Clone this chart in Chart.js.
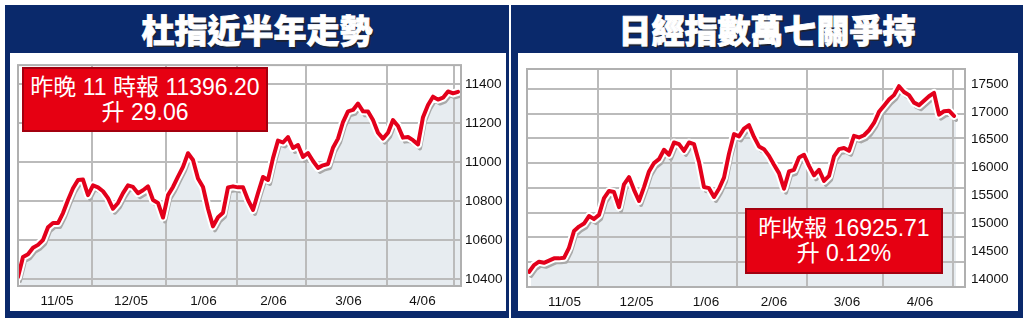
<!DOCTYPE html>
<html>
<head>
<meta charset="utf-8">
<script src="https://cdn.jsdelivr.net/npm/chart.js@4.4.1/dist/chart.umd.min.js"></script>
<style>
  html, body { margin: 0; padding: 0; background: #fff; }
  body { width: 1029px; height: 321px; position: relative; overflow: hidden;
         font-family: "Liberation Sans", Arial, "Noto Sans CJK TC", sans-serif; }
  .panel { position: absolute; top: 5px; height: 313px; background: #0a296b; }
  .title { position: absolute; left: 0; right: 0; top: 0; height: 48px; line-height: 48px;
           text-align: center; color: #fff; font-family: "Noto Sans CJK TC", sans-serif;
           font-weight: 900; font-size: 33px; -webkit-text-stroke: 0.8px #fff;
           text-shadow: 2px 2px 0 #1c2233; }
  .inner { position: absolute; top: 48px; height: 258px; background: #fff; }
  canvas { position: absolute; left: 0; top: 0; }
  .tag { position: absolute; box-sizing: border-box; background: #e60012; border: 2px solid #a3000f;
         color: #fff; font-size: 23px; line-height: 25px; text-align: center;
         font-family: "Liberation Sans", Arial, "Noto Sans CJK TC", sans-serif;
         display: flex; flex-direction: column; justify-content: center; }
</style>
</head>
<body>
<div class="panel" style="left:5px;width:504px;">
  <div class="title">杜指近半年走勢</div>
  <div class="inner" style="left:5px;width:496px;"><canvas id="dji" width="496" height="258"></canvas></div>
</div>
<div class="panel" style="left:511px;width:512px;">
  <div class="title">日經指數萬七關爭持</div>
  <div class="inner" style="left:7px;width:500px;"><canvas id="nikkei" width="500" height="258"></canvas></div>
</div>
<div class="tag" style="left:22px;top:67px;width:246px;height:65px;">
  <div>昨晚 11 時報 11396.20</div><div>升 29.06</div>
</div>
<div class="tag" style="left:745px;top:208px;width:198px;height:66px;">
  <div>昨收報 16925.71</div><div>升 0.12%</div>
</div>

<script>
// Dow Jones, roughly every trading day and a half, Oct 05 - Apr 06
var djiValues = [
  10410, 10513, 10527, 10560, 10575, 10600, 10665, 10687, 10687, 10738,
  10805, 10865, 10908, 10910, 10830, 10880, 10870, 10850, 10815, 10760,
  10790, 10840, 10880, 10872, 10840, 10855, 10875, 10805, 10790, 10715,
  10830, 10872, 10925, 10975, 11045, 11010, 10915, 10872, 10760, 10670,
  10717, 10740, 10870, 10875, 10870, 10870, 10805, 10754, 10840, 10923,
  10908, 11020, 11110, 11100, 11128, 11072, 11087, 11026, 11046, 11005,
  10970, 10983, 10990, 11073, 11120, 11205, 11260, 11267, 11300, 11260,
  11259, 11215, 11150, 11120, 11150, 11215, 11185, 11125, 11128, 11112,
  11090, 11230, 11292, 11335, 11320, 11330, 11362, 11352, 11360
];
var djiMonths = ["11/05", "12/05", "1/06", "2/06", "3/06", "4/06"];
var djiMonthEnds = [14.8, 29.6, 43.8, 57.6, 73.8, 87.2];
var djiTicks = [10400, 10600, 10800, 11000, 11200, 11400];

// Nikkei 225
var nkValues = [
  14126, 14250, 14310, 14290, 14330, 14370, 14370, 14380, 14560, 14860,
  14940, 14995, 15130, 15075, 15150, 15450, 15580, 15560, 15290, 15700,
  15830, 15600, 15400, 15650, 15930, 16080, 16150, 16320, 16230, 16450,
  16420, 16300, 16450, 16420, 16100, 15650, 15630, 15472, 15620, 15820,
  16250, 16600, 16560, 16700, 16760, 16550, 16380, 16330, 16210, 16050,
  15900, 15620, 15930, 15960, 16180, 16230, 16030, 15860, 15960, 15760,
  15850, 16200, 16330, 16350, 16300, 16570, 16540, 16580, 16670, 16800,
  17000, 17110, 17220, 17300, 17460, 17357, 17300, 17165, 17120, 17200,
  17280, 17340, 16950, 17010, 17020, 16926
];
var nkMonths = ["11/05", "12/05", "1/06", "2/06", "3/06", "4/06"];
var nkMonthEnds = [13.8, 28.4, 41.6, 55.6, 70.8, 84.8];
var nkTicks = [14000, 14500, 15000, 15500, 16000, 16500, 17000, 17500];

var gridColor = "#bbbbbb";
var tickFont = { family: "Liberation Sans", size: 13.5 };

// shadow line + area fill are drawn shifted down-right, grid goes back on top of the fill
var shadowPlugin = {
  id: "shadowShift",
  beforeDatasetDraw: function (chart, args) {
    var ds = chart.data.datasets[args.index];
    if (!ds.shift) return;
    var a = chart.chartArea, ctx = chart.ctx, pts = args.meta.data;
    ctx.save();
    ctx.beginPath();
    ctx.rect(a.left, a.top, a.right - a.left, a.bottom - a.top);
    ctx.clip();
    ctx.translate(ds.shift[0], ds.shift[1]);
    ctx.beginPath();
    ctx.moveTo(pts[0].x, a.bottom);
    pts.forEach(function (p) { ctx.lineTo(p.x, p.y); });
    ctx.lineTo(pts[pts.length - 1].x, a.bottom);
    ctx.closePath();
    ctx.fillStyle = "#e7ecf0";
    ctx.fill();
    ctx.restore();
    Object.values(chart.scales).forEach(function (s) {
      if (s.options.grid.display) s.drawGrid(a);
    });
    ctx.save();
    ctx.beginPath();
    ctx.rect(a.left, a.top, a.right - a.left, a.bottom - a.top);
    ctx.clip();
    ctx.translate(ds.shift[0], ds.shift[1]);
  },
  afterDatasetDraw: function (chart, args) {
    var ds = chart.data.datasets[args.index];
    if (ds.shift) chart.ctx.restore();
  },
  afterDraw: function (chart) {
    var a = chart.chartArea, ctx = chart.ctx;
    ctx.save();
    ctx.strokeStyle = "#b0b0b0";
    ctx.lineWidth = 2;
    ctx.strokeRect(a.left, a.top, a.right - a.left, a.bottom - a.top);
    ctx.restore();
  }
};

function makeChart(id, values, months, monthEnds, yTicks, o) {
  var pts = values.map(function (v, i) { return { x: i, y: v }; });
  var mids = monthEnds.map(function (e, k) {
    return ((k === 0 ? o.xMin : monthEnds[k - 1]) + e) / 2 + 0.4;
  });
  var scales = {
    x: {
      type: "linear", min: o.xMin, max: o.xMax,
      grid: { display: false, drawTicks: false }, border: { display: false },
      afterBuildTicks: function (s) { s.ticks = mids.map(function (v) { return { value: v }; }); },
      afterFit: function (s) { s.height = o.axisH; },
      ticks: { autoSkip: false, maxRotation: 0, padding: 7, color: "#111", font: tickFont,
               callback: function (v, i) { return months[i]; } }
    },
    xg: {
      type: "linear", position: "bottom", min: o.xMin, max: o.xMax,
      grid: { color: gridColor, lineWidth: 2, drawTicks: false }, border: { display: false },
      ticks: { display: false },
      afterBuildTicks: function (s) { s.ticks = monthEnds.map(function (v) { return { value: v }; }); },
      afterFit: function (s) { s.height = 0; }
    },
    y: {
      position: "right", min: o.yMin, max: o.yMax,
      grid: { display: !o.gridRows, color: gridColor, lineWidth: 2, drawTicks: false },
      border: { display: false },
      afterBuildTicks: function (s) { s.ticks = yTicks.map(function (v) { return { value: v }; }); },
      afterFit: function (s) { s.width = o.axisW; },
      ticks: { padding: o.yPad, color: "#111", font: tickFont,
               callback: function (v) { return String(v); } }
    }
  };
  if (o.gridRows) {
    scales.yg = {
      position: "left", min: 0, max: o.gridRows,
      grid: { color: gridColor, lineWidth: 2, drawTicks: false }, border: { display: false },
      ticks: { display: false },
      afterBuildTicks: function (s) {
        var t = [];
        for (var k = 1; k < o.gridRows; k++) t.push({ value: k });
        s.ticks = t;
      },
      afterFit: function (s) { s.width = 0; }
    };
  }
  return new Chart(document.getElementById(id), {
    type: "line",
    data: {
      datasets: [
        { data: pts, borderColor: "#e3001b", borderWidth: 4, pointRadius: 0, tension: 0,
          borderJoinStyle: "round", borderCapStyle: "round", xAxisID: "x", yAxisID: "y" },
        { data: pts, borderColor: "#ffffff", borderWidth: 8, pointRadius: 0, tension: 0,
          borderJoinStyle: "round", borderCapStyle: "round", xAxisID: "x", yAxisID: "y" },
        { data: pts, borderColor: "#a9a9a9", borderWidth: 4, pointRadius: 0, tension: 0,
          borderJoinStyle: "round", borderCapStyle: "round", shift: [2, 4], xAxisID: "x", yAxisID: "y" }
      ]
    },
    options: {
      responsive: false,
      animation: false,
      layout: { padding: o.padding },
      plugins: { legend: { display: false }, tooltip: { enabled: false } },
      scales: scales
    },
    plugins: [shadowPlugin]
  });
}

makeChart("dji", djiValues, djiMonths, djiMonthEnds, djiTicks, {
  xMin: 0, xMax: 88.6, yMin: 10364, yMax: 11497,
  padding: { left: 8, top: 12, right: 0, bottom: 0 }, axisW: 45, axisH: 25, yPad: 4
});

makeChart("nikkei", nkValues, nkMonths, nkMonthEnds, nkTicks, {
  xMin: -0.4, xMax: 87.2, yMin: 13856, yMax: 17769, gridRows: 8.8,
  padding: { left: 9, top: 16, right: 0, bottom: 0 }, axisW: 53, axisH: 24, yPad: 6
});
</script>
</body>
</html>
